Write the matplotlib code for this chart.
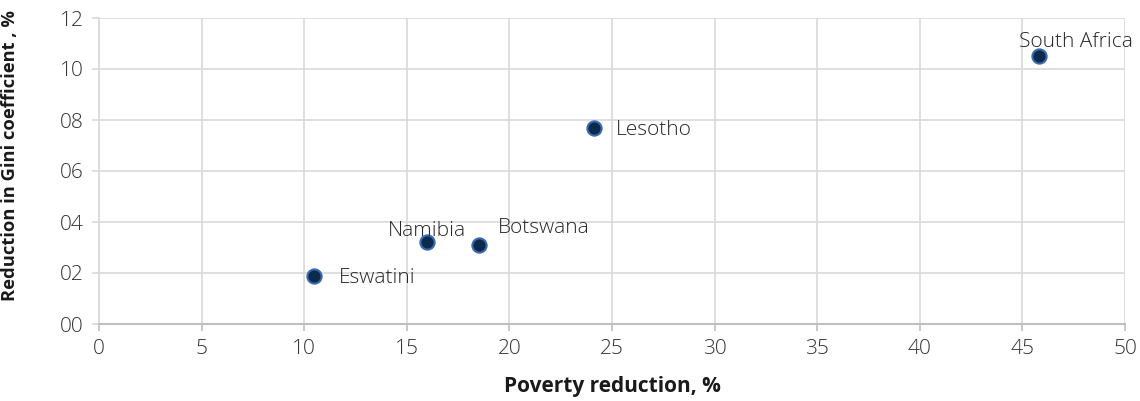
import matplotlib.pyplot as plt
from matplotlib.ticker import FuncFormatter

plt.rcParams['font.family'] = ['Open Sans', 'DejaVu Sans']

# data
countries = ["Eswatini", "Namibia", "Botswana", "Lesotho", "South Africa"]
poverty = [10.5, 16.0, 18.5, 24.1, 45.8]
gini = [1.9, 3.2, 3.1, 7.7, 10.5]
# label placement (offset in pixels, horizontal / vertical alignment)
label_pos = {
    "Eswatini": ((24, -2), "left", "center"),
    "Namibia": ((0, 6), "center", "baseline"),
    "Botswana": ((19, 12), "left", "baseline"),
    "Lesotho": ((22, -2), "left", "center"),
    "South Africa": ((-20, 9), "left", "baseline"),
}

fig = plt.figure(figsize=(11.4, 4.01), dpi=100)
ax = fig.add_axes([99 / 1140, 1 - 324 / 401, (1125 - 99) / 1140, (324 - 18) / 401])

ax.scatter(poverty, gini, s=105, color="#0b2a4c", edgecolor="#3a6ab0",
           linewidth=1.5, zorder=3)

for c, x, y in zip(countries, poverty, gini):
    off, ha, va = label_pos[c]
    ax.annotate(c, (x, y), xytext=off, textcoords="offset pixels",
                ha=ha, va=va, fontsize=15, fontweight="light",
                color="#262626", zorder=4, annotation_clip=False)

ax.set_xlim(0, 50)
ax.set_ylim(0, 12)
ax.set_xticks(range(0, 51, 5))
ax.set_yticks(range(0, 13, 2))
ax.yaxis.set_major_formatter(FuncFormatter(lambda v, p: f"{int(v):02d}"))

ax.grid(True, color="#d9d9d9", linewidth=1.2)
ax.set_axisbelow(True)
for s in ["top", "right"]:
    ax.spines[s].set_visible(False)
ax.spines["left"].set_color("#d9d9d9")
ax.spines["bottom"].set_color("#bfbfbf")
ax.spines["left"].set_linewidth(1.2)
ax.spines["bottom"].set_linewidth(1.5)
ax.tick_params(axis="both", labelsize=15, colors="#333333", length=5,
               width=1.2, pad=6)
ax.tick_params(axis="y", color="#d9d9d9")
ax.tick_params(axis="x", color="#bfbfbf")
for lbl in ax.get_xticklabels() + ax.get_yticklabels():
    lbl.set_fontweight("light")

ax.set_xlabel("Poverty reduction, %", fontsize=15, fontweight="bold",
              color="#1a1a1a", labelpad=12)
ax.set_ylabel("Reduction in Gini coefficient , %", fontsize=13.2,
              fontweight="bold", color="#1a1a1a")
ax.yaxis.set_label_coords(-0.078, 0.552)

fig.savefig("out.png", dpi=100)
